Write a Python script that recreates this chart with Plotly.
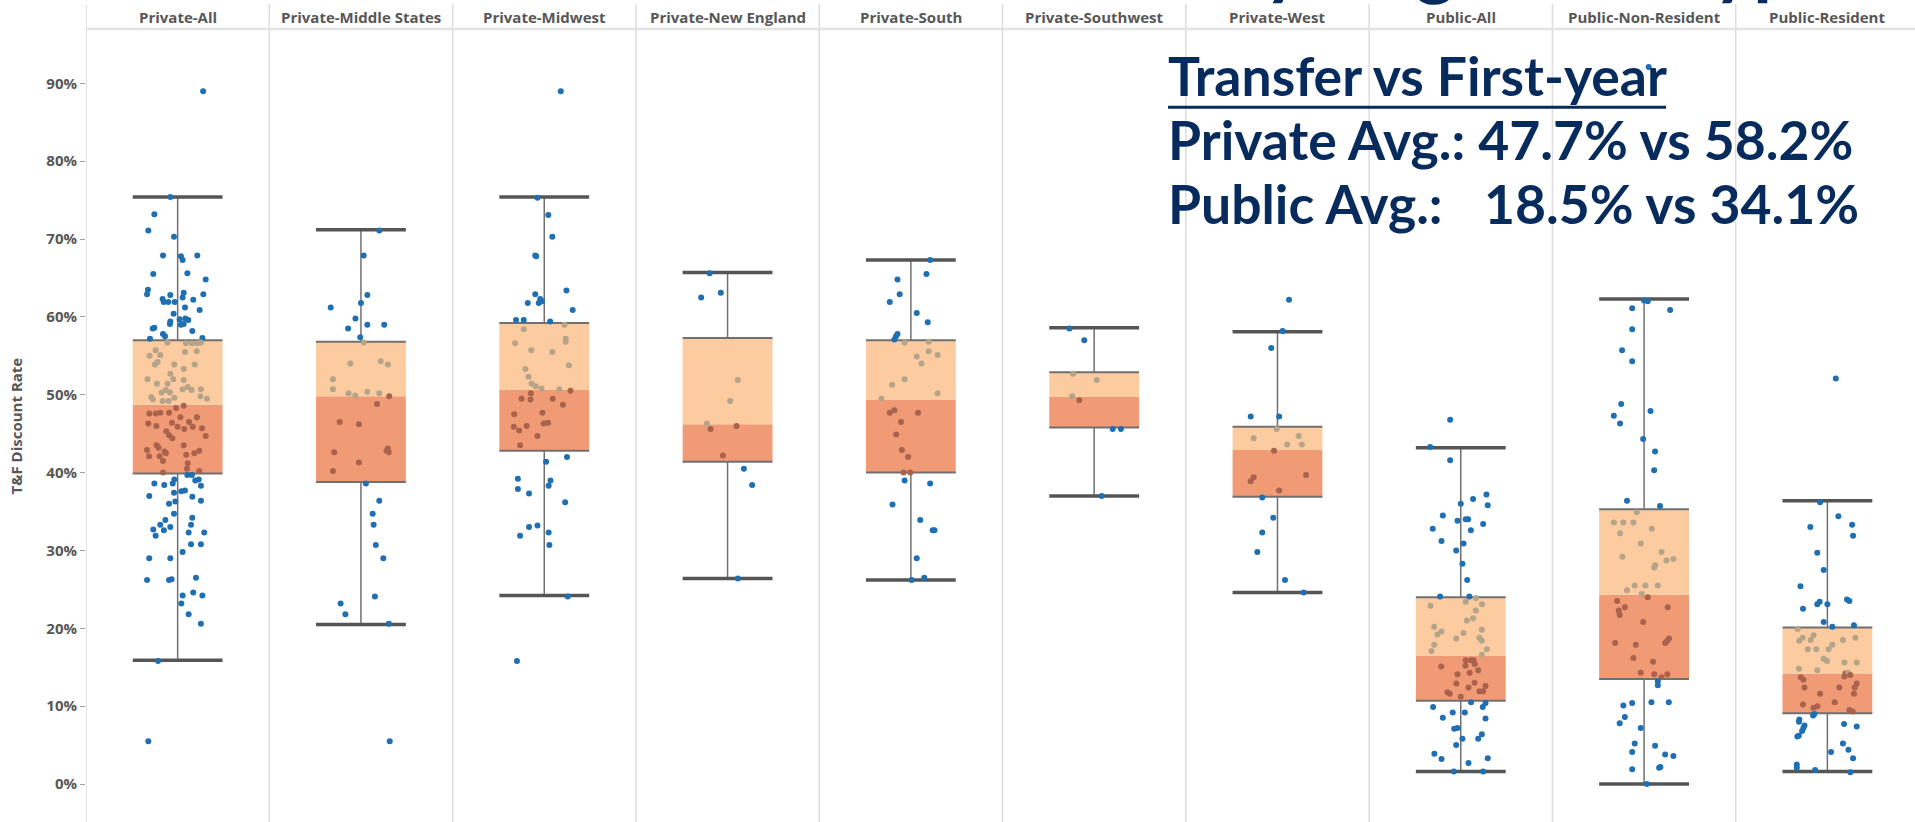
import plotly.graph_objects as go

# ---------------------------------------------------------------- data (T&F discount rate, %)
regions = ["Private-All", "Private-Middle States", "Private-Midwest", "Private-New England",
           "Private-South", "Private-Southwest", "Private-West", "Public-All",
           "Public-Non-Resident", "Public-Resident"]

whisker_low = [15.9, 20.5, 24.2, 26.4, 26.2, 37.0, 24.6, 1.6, 0.0, 1.6]
q1 = [39.9, 38.8, 42.8, 41.4, 40.0, 45.8, 36.9, 10.7, 13.5, 9.1]
median = [48.7, 49.8, 50.6, 46.2, 49.4, 49.7, 42.9, 16.5, 24.3, 14.2]
q3 = [57.0, 56.8, 59.2, 57.3, 57.0, 52.9, 45.9, 24.0, 35.3, 20.1]
whisker_high = [75.4, 71.2, 75.4, 65.7, 67.3, 58.6, 58.1, 43.2, 62.3, 36.4]

tick_vals = [0, 10, 20, 30, 40, 50, 60, 70, 80, 90]

# one value per school, with the horizontal jitter used for the dot (share of a panel)
private_all_vals = [
    89.0, 75.4, 73.2, 71.1, 70.3, 67.9, 67.8, 67.3, 67.9, 65.5, 65.6, 64.8, 63.5, 62.9, 62.8, 63.1,
    62.5, 62.9, 62.3, 61.9, 61.9, 61.9, 62.2, 61.2, 60.9, 60.4, 59.4, 59.1, 59.7, 59.8, 59.6, 59.0,
    59.1, 58.5, 58.6, 58.2, 57.8, 57.5, 57.2, 57.3, 56.7,
    56.7, 56.6, 56.6, 56.6, 55.7, 55.0, 55.1, 55.5, 55.6, 54.2, 53.9, 53.9, 53.9, 53.3, 52.7, 52.0,
    52.0, 51.9, 51.4, 51.4, 51.0, 50.6, 50.7, 50.6, 50.7, 50.3, 50.3, 49.7, 49.2, 49.6, 49.8, 49.5,
    49.2, 49.4,
    47.6, 47.6, 47.7, 47.7, 48.3, 48.6, 46.3, 46.0, 46.4, 47.1, 46.5, 47.1, 45.9, 45.6, 45.9, 45.7,
    45.3, 44.8, 44.4, 44.7, 43.5, 43.2, 43.5, 42.9, 42.7, 42.8, 42.1, 42.1, 42.5, 42.3, 42.5, 41.5,
    41.2, 40.5, 40.2,
    40.0, 39.7, 39.7, 39.1, 38.6, 38.6, 38.4, 39.0, 39.1, 38.3, 37.0, 37.4, 37.6, 37.7, 36.9, 36.4,
    36.0, 36.3, 34.7, 34.2, 33.9, 33.3, 33.3, 32.7, 32.6, 33.0, 32.3, 32.3, 31.9, 30.8, 30.8, 29.8,
    29.0, 29.0, 26.2, 26.2, 26.3, 26.5, 24.2, 24.6, 24.2, 23.2, 21.8, 20.6, 15.8, 5.5]
private_all_jitter = [
    0.139, -0.04, -0.127, -0.16, -0.02, -0.08, 0.018, 0.027, 0.107, -0.133, 0.053, 0.153, -0.162,
    -0.167, -0.04, 0.033, 0.027, 0.14, -0.082, -0.076, -0.051, -0.016, 0.085, 0.04, 0.12, -0.022,
    -0.04, -0.042, 0.011, 0.042, 0.058, 0.018, 0.033, -0.136, -0.127, 0.08, -0.08, -0.069, -0.151,
    0.135, 0.127,
    -0.056, 0.045, 0.078, 0.107, -0.12, -0.153, -0.095, 0.04, 0.104, -0.109, -0.124, -0.018, 0.093,
    0.033, -0.04, -0.164, -0.024, 0.033, -0.113, -0.055, 0.055, -0.065, 0.027, 0.076, 0.127, -0.087,
    -0.042, -0.144, -0.082, -0.018, 0.124, 0.16, -0.049, -0.135,
    -0.155, -0.12, -0.095, -0.047, -0.009, 0.033, -0.16, -0.116, -0.031, 0.015, 0.062, 0.105, 0.0,
    0.036, 0.082, 0.133, -0.062, -0.047, -0.029, 0.153, -0.115, -0.104, 0.033, -0.167, -0.071,
    0.118, -0.156, -0.098, -0.064, 0.047, 0.091, -0.08, 0.055, 0.051, 0.118,
    -0.08, 0.053, 0.078, -0.018, -0.027, -0.127, -0.073, 0.096, 0.115, 0.127, -0.155, -0.02, 0.02,
    0.04, 0.08, 0.127, -0.047, -0.013, -0.02, 0.08, -0.067, -0.095, 0.073, -0.133, -0.075, -0.04,
    0.06, 0.145, -0.12, 0.073, 0.127, 0.027, -0.155, -0.04, -0.167, -0.047, -0.033, 0.1, 0.027,
    0.085, 0.135, 0.02, 0.06, 0.127, -0.107, -0.16]

middle_states_vals = [
    71.1, 67.9, 62.8, 61.8, 61.2, 59.8, 58.5, 59.0, 59.0, 57.4, 56.7, 54.0, 54.3, 53.9, 52.0, 50.7,
    50.2, 49.9, 50.4, 50.2, 49.8, 48.8, 46.5, 46.2, 42.6, 41.3, 43.1, 42.6, 42.8, 40.2, 38.6, 36.4,
    34.7, 33.3, 30.7, 29.0, 24.1, 23.2, 21.8, 20.6, 5.5]
middle_states_jitter = [
    0.1, 0.015, 0.035, 0.0, -0.165, -0.03, -0.07, 0.035, 0.127, -0.004, 0.015, -0.058, 0.108, 0.147,
    -0.153, -0.153, -0.068, -0.031, 0.035, 0.1, 0.154, 0.088, -0.116, -0.011, -0.146, -0.011, 0.147,
    0.152, 0.14, -0.153, 0.027, 0.1, 0.064, 0.069, 0.081, 0.122, 0.076, -0.111, -0.085, 0.152, 0.157]

midwest_vals = [
    89.0, 75.3, 73.1, 70.3, 67.9, 67.8, 63.4, 62.9, 61.8, 62.3, 62.0, 61.8, 60.9, 59.6, 59.6, 59.4,
    59.0, 58.4, 57.2, 56.6, 56.8, 55.7, 55.5, 53.8, 53.3, 52.3, 51.4, 51.1, 50.8, 50.7, 50.5, 49.5,
    49.4, 49.5, 50.2, 48.7, 47.5, 47.7, 45.9, 45.4, 46.0, 46.3, 46.4, 44.7, 43.5, 41.4, 42.0, 39.2,
    37.9, 37.3, 39.0, 38.3, 36.2, 31.9, 33.0, 33.2, 32.3, 30.7, 24.1, 15.8]
midwest_jitter = [
    0.09, -0.037, 0.022, 0.044, -0.049, -0.044, 0.121, -0.049, -0.09, -0.022, -0.012, -0.03, 0.155,
    -0.154, -0.112, 0.032, 0.11, -0.112, 0.117, -0.159, 0.117, -0.071, 0.044, 0.134, -0.103, -0.086,
    -0.069, -0.047, -0.015, 0.082, 0.143, -0.124, -0.075, 0.046, -0.073, 0.102, -0.164, -0.01,
    -0.166, -0.137, -0.096, -0.003, 0.021, -0.037, -0.132, 0.01, 0.124, -0.144, -0.144, -0.083,
    0.034, 0.024, 0.114, -0.132, -0.083, -0.037, 0.024, 0.028, 0.128, -0.149]

new_england_vals = [65.6, 62.5, 63.1, 51.9, 49.2, 46.3, 45.6, 46.0, 42.2, 40.5, 38.4, 26.4]
new_england_jitter = [-0.098, -0.144, -0.037, 0.056, 0.014, -0.113, -0.093, 0.049, -0.025, 0.089,
                      0.134, 0.056]

south_vals = [
    67.3, 65.5, 64.8, 62.9, 61.9, 60.5, 59.3, 57.8, 57.5, 57.1, 56.7, 56.8, 55.6, 55.1, 54.9, 54.0,
    52.0, 51.3, 50.2, 49.5, 48.0, 47.7, 47.7, 46.5, 44.9, 42.9, 42.0, 40.0, 40.0, 39.0, 38.6, 35.9,
    33.9, 32.6, 32.6, 29.0, 26.5, 26.2]
south_jitter = [
    0.105, 0.085, -0.073, -0.061, -0.115, 0.032, 0.092, -0.073, -0.081, -0.09, -0.034, 0.097, 0.097,
    0.146, 0.032, 0.058, -0.034, -0.102, 0.146, -0.161, -0.09, -0.115, 0.039, -0.054, -0.08, -0.049,
    -0.015, -0.04, -0.003, -0.034, 0.105, -0.1, 0.051, 0.119, 0.129, 0.032, 0.073, 0.004]

southwest_vals = [58.5, 57.0, 52.7, 51.9, 49.8, 49.3, 45.6, 45.6, 37.0]
southwest_jitter = [-0.135, -0.054, -0.115, 0.014, -0.12, -0.081, 0.101, 0.146, 0.041]

west_vals = [62.2, 58.2, 56.0, 47.2, 47.2, 45.6, 44.4, 43.6, 44.7, 43.6, 42.8, 39.4, 38.9, 39.7,
             37.7, 36.8, 34.2, 32.3, 29.8, 26.2, 24.6]
west_jitter = [0.063, 0.028, -0.034, -0.146, 0.009, -0.004, -0.13, 0.053, 0.116, 0.133, -0.019,
               -0.13, -0.146, 0.156, 0.009, -0.083, -0.023, -0.083, -0.11, 0.041, 0.143]

public_all_vals = [
    46.8, 43.3, 41.6, 37.2, 36.6, 35.8, 36.0, 34.5, 33.8, 34.0, 34.0, 33.4, 32.8, 32.6, 31.2, 30.9,
    30.0, 28.3, 26.2, 24.1, 24.1, 23.9, 22.9, 23.4, 23.1, 22.3, 21.0, 21.3, 20.2, 19.6, 19.2, 19.4,
    18.7, 19.8, 18.8, 18.4, 17.9, 17.1, 17.3, 16.6, 15.9, 15.9, 15.9, 15.2, 15.4, 15.1, 14.3, 14.6,
    14.1, 12.9, 13.0, 12.4, 12.6, 11.8, 11.6, 11.2, 11.9, 11.9, 10.5, 9.9, 9.9, 10.4, 9.2, 9.2,
    8.5, 8.4, 7.1, 7.2, 6.4, 5.8, 5.8, 5.0, 3.9, 3.2, 3.3, 2.7, 1.6, 1.6]
public_all_jitter = [
    -0.058, -0.167, -0.058, 0.14, 0.067, 0.147, 0.0, -0.098, -0.018, 0.027, 0.04, 0.122, -0.153,
    0.055, -0.105, 0.015, -0.025, 0.009, 0.035, -0.113, 0.047, 0.082, -0.165, 0.027, 0.116, 0.082,
    0.033, 0.067, -0.145, -0.105, -0.127, 0.015, -0.025, 0.115, 0.102, 0.115, -0.145, -0.16, 0.142,
    0.115, 0.027, 0.055, 0.069, 0.025, 0.076, -0.107, 0.049, 0.095, -0.018, -0.024, 0.075, 0.042,
    0.135, -0.073, -0.06, 0.0, 0.102, 0.122, 0.056, -0.151, 0.12, 0.135, -0.044, 0.022, -0.098,
    0.135, -0.036, -0.018, 0.115, 0.009, 0.095, -0.025, -0.144, -0.105, 0.147, 0.042, -0.038, 0.122]

non_resident_vals = [
    92.1, 62.1, 62.0, 61.1, 60.9, 58.4, 55.7, 54.3, 48.8, 47.9, 47.3, 46.3, 44.3, 42.7, 40.3, 36.4,
    35.7, 34.9, 33.6, 33.6, 33.6, 32.2, 32.8, 30.9, 29.2, 29.8, 28.7, 28.9, 28.1, 27.8, 24.9, 25.5,
    25.5, 25.5, 24.4, 24.0, 23.5, 22.7, 22.7, 22.3, 21.7, 20.8, 18.1, 17.9, 18.1, 18.4, 18.7, 16.2,
    15.7, 14.3, 14.1, 13.7, 14.1, 13.2, 12.7, 10.5, 10.5, 10.4, 10.1, 8.6, 7.8, 7.2, 5.2, 4.9,
    4.1, 3.8, 3.6, 1.9, 2.1, 2.2, 0.0]
non_resident_jitter = [
    0.025, 0.0, 0.02, -0.065, 0.142, -0.065, -0.12, -0.065, -0.125, 0.035, -0.165, -0.131, -0.005,
    0.06, 0.055, -0.093, 0.087, -0.04, -0.165, -0.113, -0.058, -0.131, 0.042, -0.018, -0.118, 0.095,
    0.122, 0.16, 0.06, 0.055, -0.093, -0.051, 0.007, 0.075, -0.013, 0.02, -0.147, -0.105, 0.129,
    -0.138, -0.133, -0.005, -0.158, -0.045, 0.115, 0.127, 0.136, -0.058, 0.049, -0.018, 0.055,
    0.095, 0.127, 0.075, 0.075, 0.04, 0.135, -0.065, -0.113, -0.105, -0.133, -0.018, -0.051, 0.06,
    -0.065, 0.115, 0.16, -0.065, 0.082, 0.089, 0.015]

resident_vals = [
    52.1, 36.2, 34.4, 33.0, 33.3, 31.9, 29.7, 27.5, 25.4, 22.5, 23.1, 23.4, 23.1, 23.7, 23.5, 20.8,
    20.2, 20.4, 19.9, 18.8, 19.1, 18.4, 18.5, 18.5, 18.8, 17.9, 17.3, 17.3, 17.3, 16.1, 15.8, 15.6,
    15.6, 14.8, 14.6, 14.2, 14.3, 13.8, 14.0, 13.7, 13.4, 12.9, 12.4, 12.4, 12.4, 11.6, 11.6, 10.5,
    10.2, 10.0, 9.8, 9.5, 9.3, 8.8, 9.0, 8.3, 8.0, 7.5, 7.7, 7.4, 7.2, 6.8, 6.2, 6.1, 5.2, 4.4,
    4.1, 3.3, 2.5, 2.1, 1.8, 1.5]
resident_jitter = [
    0.046, -0.04, 0.06, -0.093, 0.135, 0.14, -0.055, -0.02, -0.147, -0.133, -0.055, -0.042, 0.0,
    0.107, 0.12, -0.02, 0.027, 0.145, -0.162, -0.135, -0.075, -0.153, -0.091, 0.085, 0.153, 0.027,
    -0.107, -0.06, 0.007, -0.02, -0.002, 0.093, 0.16, -0.155, -0.055, 0.098, 0.113, 0.093, 0.125,
    -0.145, -0.131, 0.16, 0.149, -0.125, 0.065, -0.04, 0.145, 0.04, -0.133, -0.055, -0.076, 0.12,
    0.138, -0.078, -0.071, -0.153, -0.155, -0.125, 0.091, 0.16, -0.131, -0.138, -0.156, -0.164,
    0.085, 0.115, 0.02, 0.14, -0.167, -0.167, -0.067, 0.125]

point_vals = [private_all_vals, middle_states_vals, midwest_vals, new_england_vals, south_vals,
              southwest_vals, west_vals, public_all_vals, non_resident_vals, resident_vals]
point_jitter = [private_all_jitter, middle_states_jitter, midwest_jitter, new_england_jitter,
                south_jitter, southwest_jitter, west_jitter, public_all_jitter,
                non_resident_jitter, resident_jitter]

# ---------------------------------------------------------------- styling
BLUE = "#1f6fb2"
UPPER = "#fccca0"
LOWER = "#f09a76"
DOT_UPPER = "#b5a38a"
DOT_LOWER = "#a9634d"
NAVY = "#062b5c"
GRAY_TXT = "#575757"
BOX_W = 0.49
HW = BOX_W / 2

pos = list(range(len(regions)))

fig = go.Figure()

# box bands (Q1 -> median, median -> Q3)
fig.add_trace(go.Bar(x=pos, y=[m - a for m, a in zip(median, q1)], base=q1, width=BOX_W,
                     marker=dict(color=LOWER, line=dict(width=0)), hoverinfo="skip"))
fig.add_trace(go.Bar(x=pos, y=[b - m for b, m in zip(q3, median)], base=median, width=BOX_W,
                     marker=dict(color=UPPER, line=dict(width=0)), hoverinfo="skip"))

# whiskers, box edges and caps
wx, wy, ex, ey, cx, cy = [], [], [], [], [], []
for i in pos:
    wx += [i, i, None, i, i, None]
    wy += [whisker_high[i], q3[i], None, q1[i], whisker_low[i], None]
    ex += [i - HW, i + HW, None, i - HW, i + HW, None]
    ey += [q3[i], q3[i], None, q1[i], q1[i], None]
    cx += [i - HW, i + HW, None, i - HW, i + HW, None]
    cy += [whisker_high[i], whisker_high[i], None, whisker_low[i], whisker_low[i], None]

fig.add_trace(go.Scatter(x=wx, y=wy, mode="lines", line=dict(color="#707070", width=1.5),
                         hoverinfo="skip"))
fig.add_trace(go.Scatter(x=ex, y=ey, mode="lines", line=dict(color="#707070", width=2),
                         hoverinfo="skip"))
fig.add_trace(go.Scatter(x=cx, y=cy, mode="lines", line=dict(color="#555555", width=3.5),
                         hoverinfo="skip"))

# jittered dots
for i in pos:
    xs = [i + j for j in point_jitter[i]]
    cols = []
    for v in point_vals[i]:
        if q1[i] <= v <= median[i]:
            cols.append(DOT_LOWER)
        elif median[i] < v <= q3[i]:
            cols.append(DOT_UPPER)
        else:
            cols.append(BLUE)
    fig.add_trace(go.Scatter(x=xs, y=point_vals[i], mode="markers",
                             marker=dict(size=6, color=cols, line=dict(width=0)),
                             hovertemplate=regions[i] + ": %{y:.1f}%<extra></extra>"))

# panel dividers and header
shapes = []
for k in pos:
    shapes.append(dict(type="line", xref="x", yref="paper", x0=k - 0.5, x1=k - 0.5,
                       y0=0, y1=1.0315, line=dict(color="#dcdcdc", width=1.5)))
shapes.append(dict(type="line", xref="paper", yref="paper", x0=0, x1=1, y0=1, y1=1,
                   line=dict(color="#e3e3e3", width=2.5)))
# underline for the callout heading
shapes.append(dict(type="line", xref="paper", yref="paper", x0=0.5916, x1=0.8639,
                   y0=0.9013, y1=0.9013, line=dict(color=NAVY, width=3)))

annotations = []
for k, name in enumerate(regions):
    annotations.append(dict(x=k, y=1.0151, xref="x", yref="paper", text="<b>" + name + "</b>",
                            showarrow=False, xanchor="center", yanchor="middle",
                            font=dict(family="Open Sans", size=15, color=GRAY_TXT)))

annotations.append(dict(x=-0.0383, y=0.5, xref="paper", yref="paper",
                        text="<b>T&F Discount Rate</b>", textangle=-90, showarrow=False,
                        xanchor="center", yanchor="middle",
                        font=dict(family="Open Sans", size=15, color=GRAY_TXT)))

big = dict(family="Lato", size=53.5, color=NAVY)
annotations += [
    dict(x=0.5905, y=0.9415, xref="paper", yref="paper", text="<b>Transfer vs First-year</b>",
         showarrow=False, xanchor="left", yanchor="middle", font=big),
    dict(x=0.5905, y=0.861, xref="paper", yref="paper",
         text="<b>Private Avg.: 47.7% vs 58.2%</b>",
         showarrow=False, xanchor="left", yanchor="middle", font=big),
    dict(x=0.5905, y=0.7800, xref="paper", yref="paper", text="<b>Public Avg.:</b>",
         showarrow=False, xanchor="left", yanchor="middle", font=big),
    dict(x=0.7633, y=0.7800, xref="paper", yref="paper", text="<b>18.5% vs 34.1%</b>",
         showarrow=False, xanchor="left", yanchor="middle", font=big),
]

# dashboard title sitting above the crop: only its descenders reach into view
title_font = dict(family="Lato", size=76, color=NAVY)
for word, px in [("by", 1220), ("Region", 1326), ("Type", 1672)]:
    annotations.append(dict(x=(px - 86) / 1829, y=1.087, xref="paper", yref="paper",
                            text="<b>" + word + "</b>", showarrow=False, xanchor="left",
                            yanchor="middle", font=title_font))

fig.update_layout(
    width=1915, height=822,
    margin=dict(l=86, r=0, t=29, b=0),
    paper_bgcolor="white", plot_bgcolor="white",
    barmode="overlay", showlegend=False,
    xaxis=dict(range=[-0.5, 9.478], showgrid=False, zeroline=False, showticklabels=False,
               ticks="", showline=False, automargin=False),
    yaxis=dict(range=[-4.88, 96.98], tickvals=tick_vals,
               ticktext=["<b>%d%%</b>" % v for v in tick_vals],
               showgrid=False, zeroline=False, showline=False, ticks="outside", ticklen=5,
               tickcolor="#a0a0a0",
               tickfont=dict(family="Open Sans", size=15, color=GRAY_TXT),
               automargin=False),
    shapes=shapes,
    annotations=annotations,
)

# the page's default body margin would push the figure 8px down/right
fig.write_html("out.html", config={"displayModeBar": False},
               post_script="document.body.style.margin='0px';")
